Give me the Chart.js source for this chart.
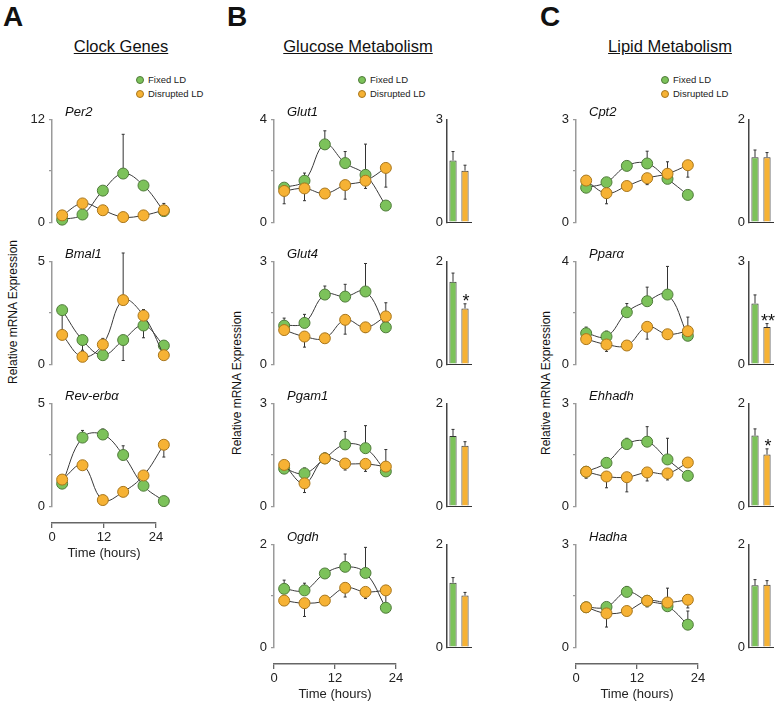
<!DOCTYPE html>
<html>
<head>
<meta charset="utf-8">
<script src="https://cdn.jsdelivr.net/npm/chart.js@4.4.1/dist/chart.umd.min.js"></script>
<style>
  body { margin: 0; background: #fff; font-family: 'Liberation Sans', Arial, sans-serif; }
  #fig { position: relative; width: 778px; height: 701px; overflow: hidden; }
  #fig canvas { position: absolute; }
  .txt { position: absolute; white-space: nowrap; color: #111; line-height: 1; }
  .letter { font-size: 28px; font-weight: bold; }
  .head { font-size: 16.5px; text-decoration: underline; transform: translateX(-50%); }
  .gene { font-size: 13px; font-style: italic; transform: translateY(-50%); }
  .ylab { font-size: 12px; transform: translate(-50%, -50%) rotate(-90deg); }
  .leg { font-size: 9.5px; color: #222; }
  .dot { display: inline-block; width: 8px; height: 8px; border-radius: 50%; vertical-align: -1px; margin-right: 4px; box-sizing: border-box; }
</style>
</head>
<body>
<div id="fig"></div>
<script>
// sampling times and groups
const hours = [2, 6, 10, 14, 18, 22];
const timeTicks = [0, 12, 24];
const groups = ['Fixed LD', 'Disrupted LD'];

// Clock genes
const per2Fixed = [0.3, 0.9, 3.7, 5.7, 4.3, 1.3];
const per2FixedErr = [0, 0, 0.5, 4.6, 0, 0];
const per2Disrupted = [0.8, 2.2, 1.4, 0.6, 0.8, 1.4];
const per2DisruptedErr = [0, 0, 0, 0, 0, 0.8];

const bmal1Fixed = [2.64, 1.18, 0.44, 1.18, 1.89, 0.91];
const bmal1FixedErr = [-1.0, -0.5, 0, -1.0, -0.6, 0];
const bmal1Disrupted = [1.43, 0.36, 0.96, 3.13, 2.37, 0.44];
const bmal1DisruptedErr = [0, 0, 0.3, 2.3, 0.3, 0];

const reverbFixed = [1.1, 3.35, 3.5, 2.5, 1.0, 0.25];
const reverbFixedErr = [0, 0.35, 0.27, 0.45, 0, 0];
const reverbDisrupted = [1.3, 2.0, 0.3, 0.7, 1.5, 3.0];
const reverbDisruptedErr = [-0.4, 0, 0, 0, 0, -0.6];

// Glucose metabolism
const glut1Fixed = [1.35, 1.62, 3.04, 2.31, 1.85, 0.65];
const glut1FixedErr = [0.15, 0.3, 0.53, 0.45, 1.2, 0];
const glut1Disrupted = [1.22, 1.32, 1.12, 1.45, 1.62, 2.12];
const glut1DisruptedErr = [-0.5, -0.48, 0, -0.55, -0.3, -0.75];
const glut1Mean = [1.81, 1.51];
const glut1MeanErr = [0.26, 0.16];

const glut4Fixed = [1.13, 1.21, 2.04, 1.98, 2.13, 1.08];
const glut4FixedErr = [0.22, 0.25, 0.25, 0.36, 0.82, 0];
const glut4Disrupted = [1.0, 0.81, 0.76, 1.3, 1.08, 1.4];
const glut4DisruptedErr = [0, -0.31, 0, -0.42, -0.15, 0.4];
const glut4Mean = [1.61, 1.09];
const glut4MeanErr = [0.17, 0.09];

const pgam1Fixed = [1.1, 0.96, 1.4, 1.81, 1.7, 1.02];
const pgam1FixedErr = [0, 0.16, 0, 0.38, 0.66, 0];
const pgam1Disrupted = [1.21, 0.67, 1.4, 1.25, 1.24, 1.16];
const pgam1DisruptedErr = [0, -0.27, 0.16, -0.19, -0.22, 0.5];
const pgam1Mean = [1.37, 1.18];
const pgam1MeanErr = [0.13, 0.08];

const ogdhFixed = [1.14, 1.11, 1.44, 1.57, 1.45, 0.77];
const ogdhFixedErr = [0.17, 0.14, 0, 0.25, 0.5, 0];
const ogdhDisrupted = [0.91, 0.86, 0.91, 1.16, 1.08, 1.11];
const ogdhDisruptedErr = [0, -0.26, 0, -0.18, -0.13, -0.3];
const ogdhMean = [1.26, 1.01];
const ogdhMeanErr = [0.1, 0.06];

// Lipid metabolism
const cpt2Fixed = [1.01, 1.17, 1.65, 1.72, 1.27, 0.8];
const cpt2FixedErr = [0, 0, 0, 0.36, 0, 0];
const cpt2Disrupted = [1.22, 0.85, 1.06, 1.29, 1.42, 1.67];
const cpt2DisruptedErr = [0, -0.31, 0, -0.19, 0.35, -0.35];
const cpt2Mean = [1.27, 1.27];
const cpt2MeanErr = [0.14, 0.09];

const pparaFixed = [1.21, 1.08, 2.03, 2.46, 2.72, 1.11];
const pparaFixedErr = [0.24, 0.21, 0.34, 0.55, 1.1, 0];
const pparaDisrupted = [0.98, 0.77, 0.73, 1.46, 1.17, 1.29];
const pparaDisruptedErr = [0, -0.27, 0, -0.48, -0.2, 0.55];
const pparaMean = [1.78, 1.09];
const pparaMeanErr = [0.25, 0.1];

const ehhadhFixed = [1.01, 1.27, 1.82, 1.89, 1.37, 0.89];
const ehhadhFixedErr = [0, 0, 0.17, 0.44, 0.62, 0];
const ehhadhDisrupted = [1.01, 0.87, 0.85, 0.99, 0.96, 1.28];
const ehhadhDisruptedErr = [-0.19, -0.33, -0.43, -0.25, -0.19, 0];
const ehhadhMean = [1.38, 1.01];
const ehhadhMeanErr = [0.13, 0.11];

const hadhaFixed = [1.17, 1.18, 1.62, 1.36, 1.2, 0.66];
const hadhaFixedErr = [0, 0, 0.16, 0, 0, 0.4];
const hadhaDisrupted = [1.17, 0.99, 1.06, 1.36, 1.31, 1.39];
const hadhaDisruptedErr = [0, -0.4, 0, -0.18, 0.42, -0.24];
const hadhaMean = [1.21, 1.22];
const hadhaMeanErr = [0.11, 0.08];

// colores
const GREEN = '#7cc25a', GREEN_EDGE = '#4f7a3a';
const ORANGE = '#f6b234', ORANGE_EDGE = '#a8761c';
const FONT = "'Liberation Sans', Arial, sans-serif";
Chart.defaults.font.family = FONT;
Chart.defaults.color = '#222';

const fig = document.getElementById('fig');
const rowTop = [118, 260, 402, 543];
const PLOT_H = 106, PLOT_W = 122, BAR_W = 24;

function addCanvas(left, top, w, h) {
  const c = document.createElement('canvas');
  c.width = w; c.height = h;
  c.style.left = left + 'px'; c.style.top = top + 'px';
  c.style.width = w + 'px'; c.style.height = h + 'px';
  fig.appendChild(c);
  return c;
}

function addText(cls, html, left, top) {
  const d = document.createElement('div');
  d.className = 'txt ' + cls;
  d.innerHTML = html;
  d.style.left = left + 'px'; d.style.top = top + 'px';
  fig.appendChild(d);
  return d;
}

// barras de error (signo = direccion)
function drawErrors(chart) {
  const ctx = chart.ctx, ys = chart.scales.y;
  chart.data.datasets.forEach((ds, di) => {
    if (!ds.errors) return;
    const meta = chart.getDatasetMeta(di);
    ds.errors.forEach((e, i) => {
      const el = meta.data[i];
      const raw = ds.data[i];
      const v = typeof raw === 'object' ? raw.y : raw;
      const y0 = ys.getPixelForValue(v);
      const y1 = ys.getPixelForValue(v + e);
      ctx.save();
      ctx.strokeStyle = '#333';
      ctx.lineWidth = 1;
      if (e) {
        ctx.beginPath();
        ctx.moveTo(el.x, y0); ctx.lineTo(el.x, y1);
        ctx.moveTo(el.x - 1.5, y1); ctx.lineTo(el.x + 1.5, y1);
        ctx.stroke();
      }
      if (ds.marks && ds.marks[i]) {
        ctx.fillStyle = '#111';
        ctx.font = '18px ' + FONT;
        ctx.textAlign = 'center';
        ctx.textBaseline = 'alphabetic';
        ctx.fillText(ds.marks[i], el.x + 1, y1 + 3);
      }
      ctx.restore();
    });
  });
}

const errorBars = {
  id: 'errorBars',
  beforeDatasetsDraw(chart) { if (chart.config.type === 'line') drawErrors(chart); },
  afterDatasetsDraw(chart) { if (chart.config.type === 'bar') drawErrors(chart); }
};

function yAxis(max, ticks, width, color, tickLen) {
  return {
    min: 0, max: max,
    afterBuildTicks: s => { s.ticks = ticks.map(v => ({ value: v })); },
    ticks: { callback: v => (v === 0 || v === max) ? v : '', font: { size: 13 }, color: '#222', padding: 4 },
    grid: { drawOnChartArea: false, drawTicks: tickLen > 0, tickLength: tickLen, color: color, lineWidth: 1.3 },
    border: { color: color, width: 1.5 },
    afterFit: s => { s.width = width; }
  };
}

function linePanel(axisX, top, gene, max, fixed, fixedErr, disrupted, disruptedErr) {
  const c = addCanvas(axisX - 44, top - 10, 44 + PLOT_W + 12, PLOT_H + 20);
  const pts = vals => hours.map((h, i) => ({ x: h, y: vals[i] }));
  new Chart(c, {
    type: 'line',
    data: {
      datasets: [{
        label: groups[0], data: pts(fixed), errors: fixedErr, order: 1,
        borderColor: '#3a3a3a', borderWidth: 1, tension: 0.4, clip: false,
        pointRadius: 5.5, pointBackgroundColor: GREEN, pointBorderColor: GREEN_EDGE, pointBorderWidth: 1
      }, {
        label: groups[1], data: pts(disrupted), errors: disruptedErr, order: 0,
        borderColor: '#3a3a3a', borderWidth: 1, tension: 0.4, clip: false,
        pointRadius: 5.5, pointBackgroundColor: ORANGE, pointBorderColor: ORANGE_EDGE, pointBorderWidth: 1
      }]
    },
    options: {
      responsive: false, animation: false, events: [],
      layout: { padding: { top: 10, bottom: 10, left: 0, right: 12 } },
      plugins: { legend: { display: false }, tooltip: { enabled: false } },
      scales: {
        x: { type: 'linear', min: 0, max: 24, display: false },
        y: yAxis(max, [0, max / 2, max], 44, '#9a9a9a', 3)
      }
    },
    plugins: [errorBars]
  });
  addText('gene', gene, axisX + 13, top - 7);
}

function barPanel(axisX, top, max, vals, errs, marks) {
  const c = addCanvas(axisX - 30, top - 10, 30 + BAR_W + 4, PLOT_H + 20);
  new Chart(c, {
    type: 'bar',
    data: {
      labels: groups,
      datasets: [{
        data: vals, errors: errs, marks: marks,
        backgroundColor: [GREEN, ORANGE],
        borderColor: '#333', borderWidth: 1,
        categoryPercentage: 1, barPercentage: 0.6
      }]
    },
    options: {
      responsive: false, animation: false, events: [],
      layout: { padding: { top: 10, bottom: 10, left: 0, right: 4 } },
      plugins: { legend: { display: false }, tooltip: { enabled: false } },
      scales: {
        x: {
          grid: { display: false }, ticks: { display: false },
          border: { color: '#333', width: 1 },
          afterFit: s => { s.height = 0; }
        },
        y: yAxis(max, [0, max], 30, '#444', 0)
      }
    },
    plugins: [errorBars]
  });
}

function timeAxis(axisX, lineY, width) {
  const c = addCanvas(axisX - 30, lineY - 4, 30 + width + 30, 44);
  new Chart(c, {
    type: 'line',
    data: { datasets: [] },
    options: {
      responsive: false, animation: false, events: [],
      layout: { padding: { top: 0, bottom: 0, left: 30, right: 30 } },
      plugins: { legend: { display: false }, tooltip: { enabled: false } },
      scales: {
        x: {
          type: 'linear', min: 0, max: 24,
          afterBuildTicks: s => { s.ticks = timeTicks.map(v => ({ value: v })); },
          ticks: { font: { size: 13 }, color: '#222', padding: 2, maxRotation: 0 },
          grid: { drawOnChartArea: false, tickLength: 5, color: '#666', lineWidth: 1.3 },
          border: { color: '#666', width: 1.5 },
          title: { display: true, text: 'Time (hours)', font: { size: 13 }, color: '#222', padding: { top: 1, bottom: 0 } },
          afterFit: s => { s.height = 38; }
        },
        y: { display: false, min: 0, max: 1 }
      }
    }
  });
}

function legend(x, y) {
  addText('leg', '<span class="dot" style="background:' + GREEN + ';border:1px solid ' + GREEN_EDGE + '"></span>' + groups[0], x, y - 5);
  addText('leg', '<span class="dot" style="background:' + ORANGE + ';border:1px solid ' + ORANGE_EDGE + '"></span>' + groups[1], x, y + 9);
}

// columnas
const colA = 52, colB = 274, colC = 576;
const barB = 447, barC = 749;

addText('letter', 'A', 3, 3);
addText('letter', 'B', 227, 3);
addText('letter', 'C', 540, 3);
addText('head', 'Clock Genes', 121, 38);
addText('head', 'Glucose Metabolism', 358, 38);
addText('head', 'Lipid Metabolism', 670, 38);
legend(136, 80);
legend(358, 80);
legend(661, 80);
addText('ylab', 'Relative mRNA Expression', 13, 312);
addText('ylab', 'Relative mRNA Expression', 237, 383);
addText('ylab', 'Relative mRNA Expression', 546, 383);

linePanel(colA, rowTop[0], 'Per2', 12, per2Fixed, per2FixedErr, per2Disrupted, per2DisruptedErr);
linePanel(colA, rowTop[1], 'Bmal1', 5, bmal1Fixed, bmal1FixedErr, bmal1Disrupted, bmal1DisruptedErr);
linePanel(colA, rowTop[2], 'Rev-erbα', 5, reverbFixed, reverbFixedErr, reverbDisrupted, reverbDisruptedErr);
timeAxis(colA, rowTop[2] + PLOT_H + 13, 104);

linePanel(colB, rowTop[0], 'Glut1', 4, glut1Fixed, glut1FixedErr, glut1Disrupted, glut1DisruptedErr);
barPanel(barB, rowTop[0], 3, glut1Mean, glut1MeanErr, ['', '']);
linePanel(colB, rowTop[1], 'Glut4', 3, glut4Fixed, glut4FixedErr, glut4Disrupted, glut4DisruptedErr);
barPanel(barB, rowTop[1], 2, glut4Mean, glut4MeanErr, ['', '*']);
linePanel(colB, rowTop[2], 'Pgam1', 3, pgam1Fixed, pgam1FixedErr, pgam1Disrupted, pgam1DisruptedErr);
barPanel(barB, rowTop[2], 2, pgam1Mean, pgam1MeanErr, ['', '']);
linePanel(colB, rowTop[3], 'Ogdh', 2, ogdhFixed, ogdhFixedErr, ogdhDisrupted, ogdhDisruptedErr);
barPanel(barB, rowTop[3], 2, ogdhMean, ogdhMeanErr, ['', '']);
timeAxis(colB, rowTop[3] + PLOT_H + 13, PLOT_W);

linePanel(colC, rowTop[0], 'Cpt2', 3, cpt2Fixed, cpt2FixedErr, cpt2Disrupted, cpt2DisruptedErr);
barPanel(barC, rowTop[0], 2, cpt2Mean, cpt2MeanErr, ['', '']);
linePanel(colC, rowTop[1], 'Pparα', 4, pparaFixed, pparaFixedErr, pparaDisrupted, pparaDisruptedErr);
barPanel(barC, rowTop[1], 3, pparaMean, pparaMeanErr, ['', '**']);
linePanel(colC, rowTop[2], 'Ehhadh', 3, ehhadhFixed, ehhadhFixedErr, ehhadhDisrupted, ehhadhDisruptedErr);
barPanel(barC, rowTop[2], 2, ehhadhMean, ehhadhMeanErr, ['', '*']);
linePanel(colC, rowTop[3], 'Hadha', 3, hadhaFixed, hadhaFixedErr, hadhaDisrupted, hadhaDisruptedErr);
barPanel(barC, rowTop[3], 2, hadhaMean, hadhaMeanErr, ['', '']);
timeAxis(colC, rowTop[3] + PLOT_H + 13, PLOT_W);
</script>
</body>
</html>
